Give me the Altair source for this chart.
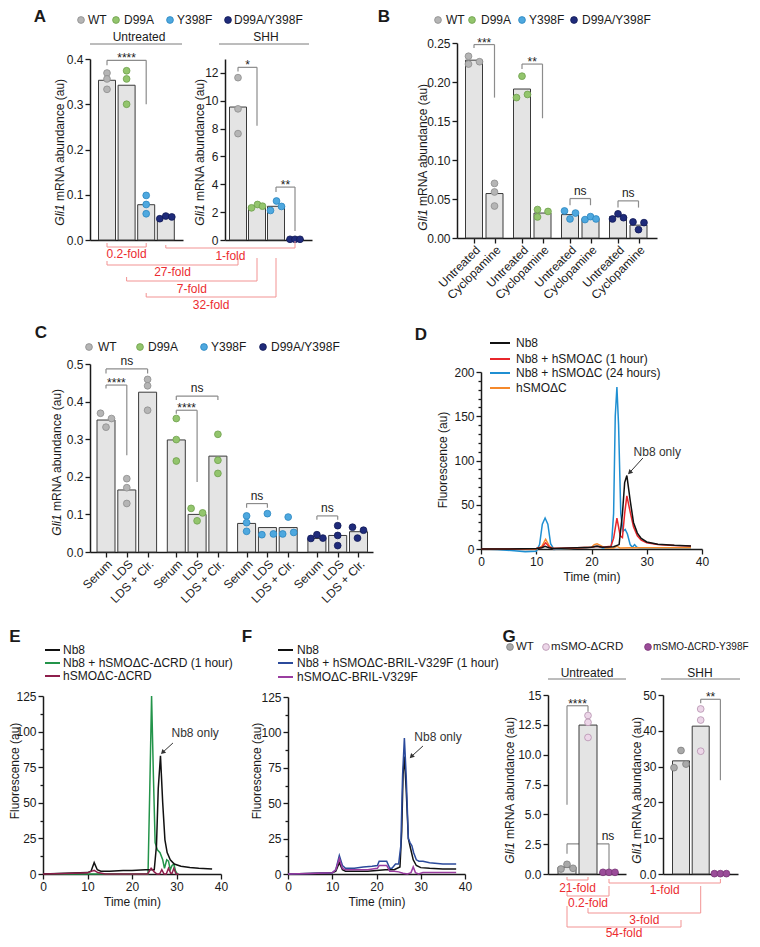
import altair as alt
import pandas as pd

M = 8
VW, VH = 744, 931
FONT = "Liberation Sans"
INK = "#1a1a1a"
BAR_FILL = "#e4e4e4"
BAR_EDGE = "#3a3a3a"
SIG_LINE = "#8c8c8c"
FOLD_TEXT = "#ec2b30"
FOLD_LINE = "#f29393"
HEAD_LINE = "#7a7a7a"

# ---------------- Panel A data ----------------
A_genotypes = ["WT", "D99A", "Y398F", "D99A/Y398F"]
A_fill = ["#b5b5b5", "#93c56d", "#4ea8df", "#1f2b7b"]
A_edge = ["#8d8d8d", "#6e9f4c", "#2b86c0", "#121b57"]
A_untr_mean = [0.353, 0.342, 0.078, 0.050]
A_untr_reps = [[0.369, 0.356, 0.333], [0.374, 0.356, 0.300], [0.0985, 0.0785, 0.058], [0.047, 0.053, 0.051]]
A_untr_jit = [[0, 0, 0], [0, 0, 0], [0, 0, 0], [-6, 0, 6]]
A_shh_mean = [9.55, 2.42, 2.42, 0.05]
A_shh_reps = [[11.66, 9.42, 7.64], [2.31, 2.55, 2.43], [2.12, 2.80, 2.41], [0.05, 0.05, 0.05]]
A_shh_jit = [[0, 0, 0], [-5.5, 0.5, 5.5], [-5.5, 0.5, 5.5], [-5, 0, 5]]
A_untr_sig = [(0, 2, 0.397, 0.386, 0.300, "****", None)]
A_shh_sig = [(0, 1, 12.4, 12.1, 8.2, "*", None), (2, 3, 3.8, 3.45, 0.65, "**", None)]
A_fold_labels = ["0.2-fold", "1-fold", "27-fold", "7-fold", "32-fold"]
A_fold_from = [("L", 0), ("L", 3), ("L", 0), ("L", 1), ("L", 2)]
A_fold_to = [("L", 2), ("R", 3), ("R", 0), ("R", 1), ("R", 2)]

# ---------------- Panel B data ----------------
B_conditions = ["Untreated", "Cyclopamine"]
B_bar_genotype = [0, 0, 1, 1, 2, 2, 3, 3]
B_mean = [0.228, 0.057, 0.191, 0.032, 0.030, 0.025, 0.0275, 0.0165]
B_reps = [[0.233, 0.223, 0.226], [0.070, 0.059, 0.041], [0.2075, 0.180, 0.184], [0.0365, 0.027, 0.034],
          [0.0347, 0.0244, 0.032], [0.0236, 0.0274, 0.0244], [0.0244, 0.031, 0.026], [0.0206, 0.0107, 0.0197]]
B_jit = [[-5.5, -5.5, 5.5], [0, 0, 0], [0, -5.5, 5.5], [-5, -5, 5.5],
         [-5.5, 0, 5.5], [-5.5, 0, 5.5], [-5.5, 0, 5.5], [-5.5, 0, 5.5]]
B_sig = [(0, 1, 0.248, 0.2436, 0.180, "***", None), (2, 3, 0.223, 0.2166, 0.1535, "**", None),
         (4, 5, 0.0506, 0.042, 0.042, "ns", None), (6, 7, 0.0476, 0.039, 0.039, "ns", None)]

# ---------------- Panel C data ----------------
C_conditions = ["Serum", "LDS", "LDS + Clr."]
C_mean = [0.351, 0.165, 0.425, 0.298, 0.100, 0.255, 0.076, 0.065, 0.065, 0.036, 0.044, 0.054]
C_reps = [[0.369, 0.355, 0.332], [0.195, 0.171, 0.129], [0.459, 0.442, 0.377],
          [0.355, 0.299, 0.242], [0.116, 0.104, 0.083], [0.313, 0.244, 0.209],
          [0.096, 0.078, 0.055], [0.102, 0.046, 0.048], [0.093, 0.048, 0.052],
          [0.036, 0.046, 0.037], [0.070, 0.044, 0.017], [0.066, 0.058, 0.037]]
C_jit = [[-5.5, 5.5, 0], [0, 0, 0], [0, 0, 0], [0, 0, 0], [-6, 5.5, 0], [0, 0, 0],
         [0, 0, 0], [0, -5.5, 6], [0, -5.5, 5.5], [-6, 0, 6], [0, 0, 0], [-6, 5, -1]]
C_sig = [(0, 2, 0.487, 0.475, 0.475, "ns", None), (0, 1, 0.444, 0.435, 0.2575, "****", None),
         (3, 5, 0.4147, 0.404, 0.404, "ns", None), (3, 4, 0.377, 0.368, 0.1865, "****", None),
         (6, 7, 0.1288, 0.118, 0.118, "ns", None), (9, 10, 0.096, 0.086, 0.086, "ns", None)]

# ---------------- Panel D data ----------------
D_names = ["Nb8", "Nb8 + hSMO\u0394C (1 hour)", "Nb8 + hSMO\u0394C (24 hours)", "hSMO\u0394C"]
D_colors = ["#111111", "#e8262b", "#1f8fd2", "#f5892b"]
D_t_nb8 = [0, 5, 10, 11, 11.6, 12.3, 13, 16, 20, 21, 22, 24, 25, 25.6, 26.0, 26.4, 27.0, 27.6, 28.3, 29, 30, 32, 35, 38]
D_nb8 = [0, 0, 0.5, 1.5, 3, 1.5, 0.5, 1, 2, 3, 2, 2.5, 5, 40, 75, 83, 55, 30, 18, 12, 8, 5.5, 4.2, 3.5]
D_t_1h = [0, 5, 10, 11, 11.7, 12.4, 13, 16, 20, 21, 22, 23.5, 24.0, 24.6, 25.2, 25.6, 26.0, 26.4, 27.0, 27.6, 28.3, 29, 30, 32, 35, 38]
D_1h = [0, 0, 0.5, 2, 7, 2, 0.5, 1, 2, 3, 2, 3, 12, 35, 15, 13, 40, 60, 42, 25, 15, 10, 7, 5, 4, 3.5]
D_t_24h = [0, 3, 6, 8, 10, 10.6, 11.1, 11.6, 12.1, 12.6, 13.2, 14, 16, 19, 20.5, 21.2, 22, 23, 23.6, 24.0, 24.3, 24.6, 24.9,
           25.3, 25.7, 26.1, 26.5, 27.0, 27.4, 27.8, 28.2, 28.8, 30, 33, 38]
D_24h = [0, -0.5, -2, -3, -2.5, 5, 28, 35, 28, 6, -0.5, 0, 0.5, 1, 3, 3, 1, 1, 3, 40, 150, 183, 140,
         40, 20, 22, 17, 5, 2, 5, 2, 1, 1, 1, 1]
D_t_smo = [0, 5, 10, 11, 11.7, 12.4, 13, 16, 20, 20.5, 21, 21.6, 22.5, 24, 24.6, 25.2, 27, 30, 35, 38]
D_smo = [0, 0, 0, 3, 11, 3, 0.5, 0.5, 2, 5, 6, 4, 1, 1, 3, 1, 1.5, 1.5, 1.5, 1.5]

# ---------------- Panel E data ----------------
E_names = ["Nb8", "Nb8 + hSMO\u0394C-\u0394CRD (1 hour)", "hSMO\u0394C-\u0394CRD"]
E_colors = ["#111111", "#23944a", "#8e1f4c"]
E_t_nb8 = [0, 5, 10, 10.8, 11.5, 12.2, 13, 15, 18, 20, 23, 25, 25.5, 25.9, 26.4, 26.9, 27.4, 27.9, 28.6, 29.5, 31, 33, 35, 38]
E_nb8 = [0, 0.5, 1, 2, 8, 3, 2, 2, 2.5, 2.5, 3, 3, 20, 60, 83, 50, 24, 15, 10, 7, 5.5, 4.5, 4, 3.5]
E_t_mix = [0, 10, 20, 23.6, 24.0, 24.4, 24.8, 25.2, 25.7, 26.3, 26.9, 27.3, 27.8, 28.2, 28.6, 29.0, 29.4, 29.8, 30.2]
E_mix = [0, 0, 0, 0, 60, 125, 70, 22, 17, 15, 10, 4, 10, 9, 3, 6, 7, 2, 0]
E_t_smo = [0, 5, 10, 11, 11.5, 12.3, 14, 20, 23.5, 24.3, 25.0, 25.6, 26.2, 26.7, 27.2, 27.7, 28.2, 28.7, 29.0, 29.4, 29.9, 30.5]
E_smo = [0, 0.3, 0.8, 2, 2.5, 1, 0, 0, 0, 4, 1.5, 0, 0, 3, 0, 0, 4, 0.5, 0.5, 4, 0, 0]

# ---------------- Panel F data ----------------
F_names = ["Nb8", "Nb8 + hSMO\u0394C-BRIL-V329F (1 hour)", "hSMO\u0394C-BRIL-V329F"]
F_colors = ["#111111", "#2b4a9b", "#9a3da0"]
F_t_nb8 = [0, 5, 10, 10.8, 11.6, 12.3, 13, 15, 18, 20, 22, 24, 25.3, 25.7, 26.0, 26.3, 26.7, 27.2, 27.7, 28.3, 29, 30, 32, 35, 38]
F_nb8 = [0, 0.3, 0.8, 2, 8, 3, 2, 2, 2, 2.5, 3, 3, 5, 30, 70, 83, 60, 25, 18, 10, 6, 4.5, 4, 3.5, 3.5]
F_t_mix = [0, 5, 10, 10.8, 11.6, 12.3, 13, 15, 17, 19, 20.2, 20.6, 21.5, 22.3, 23.0, 23.5, 24.3, 25.0, 25.5, 25.9,
           26.3, 26.7, 27.2, 27.6, 28.0, 28.4, 29.0, 29.6, 30.5, 32, 35, 38]
F_mix = [0, 0.3, 0.8, 3, 13, 6, 4, 4, 5, 5.5, 6, 9, 9, 9, 4, 4, 7, 7, 20, 70, 96, 70, 25, 22, 20, 15, 10, 9, 9, 8, 7, 7]
F_t_smo = [0, 5, 10, 10.8, 11.6, 12.3, 13, 15, 18, 20.2, 20.6, 21.5, 22.3, 23.0, 24, 25, 26, 27, 27.8, 28.3, 28.8, 29.5, 30.5, 33, 38]
F_smo = [0, 0.3, 0.8, 3, 11, 4, 3, 3, 3, 4, 6, 6, 6, 2, 2, 1.5, 0.5, 0, 1, 5, 1, 0, 1, 1, 1]

# ---------------- Panel G data ----------------
G_genotypes = ["WT", "mSMO-\u0394CRD", "mSMO-\u0394CRD-Y398F"]
G_fill = ["#a9a9a9", "#ecd6e8", "#9b4c99"]
G_edge = ["#7f7f7f", "#b592ae", "#7a3577"]
G_untr_mean = [0.57, 12.48, 0.12]
G_untr_reps = [[0.42, 0.81, 0.48], [13.28, 12.71, 11.44], [0.14, 0.14, 0.14]]
G_untr_jit = [[-6, 0, 6], [0, 0, 0], [-6, 0, 6]]
G_shh_mean = [31.6, 41.3, 0.12]
G_shh_reps = [[29.7, 34.5, 30.7], [46.1, 43.0, 34.3], [0.1, 0.1, 0.1]]
G_shh_jit = [[-7, 0, 5], [0, 0, 0], [-6, 0, 6]]
G_untr_sig = [(0, 1, 14.1, 5.8, 13.6, "****", None), (0, 2, 2.53, 1.69, 0.40, "ns", 60)]
G_shh_sig = [(1, 2, 48.8, 47.7, 26.2, "**", None)]
G_fold_labels = ["21-fold", "1-fold", "0.2-fold", "3-fold", "54-fold"]
G_fold_from = [("L", 0), ("L", 2), ("L", 0), ("L", 1), ("L", 0)]
G_fold_to = [("L", 1), ("R", 2), ("L", 2), ("R", 1), ("R", 0)]

# ====================== helpers ======================
PX = alt.Scale(domain=[0, 1000], range=[-M, 1000 - M], nice=False, zero=False)
PY = alt.Scale(domain=[0, 1000], range=[-M, 1000 - M], nice=False, zero=False)


def texts(rows, size=12, color=INK, weight="normal", align="center", baseline="middle", style="normal", angle=0):
    df = pd.DataFrame(rows, columns=["x", "y", "t"])
    return alt.Chart(df).mark_text(font=FONT, fontSize=size, color=color, fontWeight=weight, align=align,
                                   baseline=baseline, fontStyle=style, angle=angle).encode(
        x=alt.X("x:Q", scale=PX, axis=None), y=alt.Y("y:Q", scale=PY, axis=None), text="t:N")


def segs(rows, color, width=1.0):
    df = pd.DataFrame(rows, columns=["x", "y", "x2", "y2"])
    return alt.Chart(df).mark_rule(color=color, strokeWidth=width).encode(
        x=alt.X("x:Q", scale=PX, axis=None), y=alt.Y("y:Q", scale=PY, axis=None), x2="x2:Q", y2="y2:Q")


def dots(rows, size=46):
    df = pd.DataFrame(rows, columns=["x", "y", "fill", "edge"])
    return alt.Chart(df).mark_circle(size=size, opacity=1, strokeWidth=0.8).encode(
        x=alt.X("x:Q", scale=PX, axis=None), y=alt.Y("y:Q", scale=PY, axis=None),
        fill=alt.Fill("fill:N", scale=None), stroke=alt.Stroke("edge:N", scale=None))


def gli_title(x, yc, size=12):
    total = 12.28 * size
    pre = (0.778 + 0.222 + 0.222 + 0.556 + 0.278) * size
    bottom = yc + total / 2
    return [texts([(x, bottom, "Gli1")], size=size, align="left", style="italic", angle=270),
            texts([(x, bottom - pre, "mRNA abundance (au)")], size=size, align="left", angle=270)]


def bar_panel(L, R, T, B, ymax, yvals, ylab, pos, half, means, reps, jit, fills, edges, sig, xlabels=None):
    xs = alt.Scale(domain=[0, R - L], range=[L - M, R - M], nice=False, zero=False)
    ys = alt.Scale(domain=[0, ymax], range=[B - M, T - M], nice=False, zero=False)
    out = []
    seg_rows, star_rows, ns_rows = [], [], []
    for (i, j, top, lend, rend, lab, lx) in sig:
        xa, xb = pos[i], pos[j]
        seg_rows += [(xa, top, xb, top), (xa, top, xa, lend), (xb, top, xb, rend)]
        tx = (xa + xb) / 2 if lx is None else lx
        (star_rows if "*" in lab else ns_rows).append((tx, top, lab))
    if seg_rows:
        sdf = pd.DataFrame(seg_rows, columns=["x", "y", "x2", "y2"])
        out.append(alt.Chart(sdf).mark_rule(color=SIG_LINE, strokeWidth=1.2).encode(
            x=alt.X("x:Q", scale=xs, axis=None), y=alt.Y("y:Q", scale=ys, axis=None), x2="x2:Q", y2="y2:Q"))
    bdf = pd.DataFrame({"x1": [p - half for p in pos], "x2": [p + half for p in pos],
                        "y": means, "y0": [0.0] * len(pos)})
    if xlabels:
        expr = " : ".join(f"abs(datum.value - {p}) < 0.5 ? '{l}'" for p, l in zip(pos, xlabels)) + " : ''"
        xaxis = alt.Axis(orient="bottom", offset=(B - M) - VH, values=pos, labelExpr=expr, labelAngle=315,
                         labelOverlap=False, labelFlush=False, title=None, tickSize=5, labelPadding=1)
    else:
        xaxis = alt.Axis(orient="bottom", offset=(B - M) - VH, values=[0], labels=False, ticks=False, title=None)
    yaxis = alt.Axis(orient="left", offset=-(L - M), values=yvals, labelExpr=ylab, title=None,
                     labelOverlap=False, labelFlush=False)
    out.append(alt.Chart(bdf).mark_rect(fill=BAR_FILL, stroke=BAR_EDGE, strokeWidth=1).encode(
        x=alt.X("x1:Q", scale=xs, axis=xaxis), x2="x2:Q",
        y=alt.Y("y:Q", scale=ys, axis=yaxis), y2="y0:Q"))
    prow = []
    for i, p in enumerate(pos):
        for v, d in zip(reps[i], jit[i]):
            prow.append((p + d, v, fills[i], edges[i]))
    pdf = pd.DataFrame(prow, columns=["x", "y", "fill", "edge"])
    out.append(alt.Chart(pdf).mark_circle(size=46, opacity=1, strokeWidth=0.8).encode(
        x=alt.X("x:Q", scale=xs, axis=None), y=alt.Y("y:Q", scale=ys, axis=None),
        fill=alt.Fill("fill:N", scale=None), stroke=alt.Stroke("edge:N", scale=None)))
    if star_rows:
        out.append(alt.Chart(pd.DataFrame(star_rows, columns=["x", "y", "t"])).mark_text(
            font=FONT, fontSize=12, color=INK, baseline="middle", dy=-2).encode(
            x=alt.X("x:Q", scale=xs, axis=None), y=alt.Y("y:Q", scale=ys, axis=None), text="t:N"))
    if ns_rows:
        out.append(alt.Chart(pd.DataFrame(ns_rows, columns=["x", "y", "t"])).mark_text(
            font=FONT, fontSize=12, color=INK, baseline="bottom", dy=-1).encode(
            x=alt.X("x:Q", scale=xs, axis=None), y=alt.Y("y:Q", scale=ys, axis=None), text="t:N"))
    return out


def chrom_panel(L, R, T, B, ymax, ymaj, yminor, series, note):
    xs = alt.Scale(domain=[0, 40], range=[L - M, R - M], nice=False, zero=False)
    ys = alt.Scale(domain=[0, ymax], range=[B - M, T - M], nice=False, zero=False)
    out = []
    mdf = pd.DataFrame({"v": yminor, "z": [0] * len(yminor)})
    out.append(alt.Chart(mdf).mark_point(opacity=0).encode(
        x=alt.X("z:Q", scale=xs, axis=None),
        y=alt.Y("v:Q", scale=ys, axis=alt.Axis(orient="left", offset=-(L - M), values=yminor, labels=False,
                                                domain=False, tickSize=3, title=None))))
    for k, (t, y, color) in enumerate(series):
        df = pd.DataFrame({"t": t, "y": y})
        if k == 0:
            xa = alt.Axis(orient="bottom", offset=(B - M) - VH, values=[0, 10, 20, 30, 40], title="Time (min)",
                          labelFlush=False, titlePadding=4)
            ya = alt.Axis(orient="left", offset=-(L - M), values=ymaj, title=None, labelFlush=False)
        else:
            xa = None
            ya = None
        out.append(alt.Chart(df).mark_line(color=color, strokeWidth=1.5).encode(
            x=alt.X("t:Q", scale=xs, axis=xa), y=alt.Y("y:Q", scale=ys, axis=ya)))
    tx, ty, ax1, ay1, ax2, ay2 = note
    out.append(alt.Chart(pd.DataFrame({"x": [tx], "y": [ty], "t": ["Nb8 only"]})).mark_text(
        font=FONT, fontSize=12, color="#333333").encode(
        x=alt.X("x:Q", scale=xs, axis=None), y=alt.Y("y:Q", scale=ys, axis=None), text="t:N"))
    adf = pd.DataFrame({"x": [ax1], "y": [ay1], "x2": [ax2], "y2": [ay2]})
    out.append(alt.Chart(adf).mark_rule(color="#333333", strokeWidth=1).encode(
        x=alt.X("x:Q", scale=xs, axis=None), y=alt.Y("y:Q", scale=ys, axis=None), x2="x2:Q", y2="y2:Q"))
    out.append(alt.Chart(pd.DataFrame({"x": [ax2], "y": [ay2]})).mark_point(
        shape="triangle", filled=True, size=28, angle=225, color="#333333", opacity=1).encode(
        x=alt.X("x:Q", scale=xs, axis=None), y=alt.Y("y:Q", scale=ys, axis=None)))
    return out


def fold_layers(page_x, froms, tos, labels, rows):
    lines, labs = [], []
    for f, t, lab, (ly, lt, rt, ty) in zip(froms, tos, labels, rows):
        xa, xb = page_x[f], page_x[t]
        lines += [(xa, ly, xb, ly), (xa, lt, xa, ly), (xb, rt, xb, ly)]
        labs.append(((xa + xb) / 2, ty, lab))
    return [segs(lines, FOLD_LINE, 1.0), texts(labs, color=FOLD_TEXT)]


layers = []

# ====================== Panel A ======================
AL = (90, 183, 59, 240)
AR = (225, 312, 59, 240)
posAL = [17 + i * 19.6 for i in range(4)]
posAR = [13 + i * 19.0 for i in range(4)]
layers += bar_panel(*AL, 0.4, [0, 0.1, 0.2, 0.3, 0.4], "format(datum.value, '.1f')", posAL, 8.5,
                    A_untr_mean, A_untr_reps, A_untr_jit, A_fill, A_edge, A_untr_sig)
layers += bar_panel(*AR, 13, [0, 2, 4, 6, 8, 10, 12], "format(datum.value, 'd')", posAR, 8.5,
                    A_shh_mean, A_shh_reps, A_shh_jit, A_fill, A_edge, A_shh_sig)
pageA = {}
for i in range(4):
    pageA[("L", i)] = AL[0] + posAL[i]
    pageA[("R", i)] = AR[0] + posAR[i]
A_fold_rows = [(247, 243, 243, 254), (248, 245, 241, 256), (265, 261, 258, 272), (281, 277, 258, 289), (297, 293, 258, 305)]
layers += fold_layers(pageA, A_fold_from, A_fold_to, A_fold_labels, A_fold_rows)
layers += gli_title(60, 152) + gli_title(200, 152)
layers.append(texts([(139, 37, "Untreated"), (266, 37, "SHH")]))
layers.append(segs([(90, 44, 182, 44), (219, 44, 309, 44)], HEAD_LINE, 1.0))
layers.append(dots([(81, 20, A_fill[0], A_edge[0]), (116, 20, A_fill[1], A_edge[1]),
                    (170, 20, A_fill[2], A_edge[2]), (228, 20, A_fill[3], A_edge[3])]))
layers.append(texts([(88, 20, A_genotypes[0]), (124, 20, A_genotypes[1]), (177, 20, A_genotypes[2]),
                     (234, 20, A_genotypes[3])], align="left"))

# ====================== Panel B ======================
BP = (457, 657, 43, 238)
posB = [17 + g * 48 + k * 20.5 for g in range(4) for k in range(2)]
B_fill = [A_fill[g] for g in B_bar_genotype]
B_edge = [A_edge[g] for g in B_bar_genotype]
layers += bar_panel(*BP, 0.25, [0, 0.05, 0.10, 0.15, 0.20, 0.25], "format(datum.value, '.2f')", posB, 8.5,
                    B_mean, B_reps, B_jit, B_fill, B_edge, B_sig, xlabels=B_conditions * 4)
layers += gli_title(423, 157)
layers.append(dots([(438, 20, A_fill[0], A_edge[0]), (472, 20, A_fill[1], A_edge[1]),
                    (522, 20, A_fill[2], A_edge[2]), (574, 20, A_fill[3], A_edge[3])]))
layers.append(texts([(446, 20, A_genotypes[0]), (481, 20, A_genotypes[1]), (529, 20, A_genotypes[2]),
                     (582, 20, A_genotypes[3])], align="left"))

# ====================== Panel C ======================
CP = (90, 373, 364, 552)
posC = [16 + g * 70.3 + k * 20.8 for g in range(4) for k in range(3)]
C_fill = [A_fill[g] for g in range(4) for _ in range(3)]
C_edge = [A_edge[g] for g in range(4) for _ in range(3)]
layers += bar_panel(*CP, 0.5, [0, 0.1, 0.2, 0.3, 0.4, 0.5], "format(datum.value, '.1f')", posC, 9,
                    C_mean, C_reps, C_jit, C_fill, C_edge, C_sig, xlabels=C_conditions * 4)
layers += gli_title(57, 462)
layers.append(dots([(89, 347, A_fill[0], A_edge[0]), (140, 347, A_fill[1], A_edge[1]),
                    (204, 347, A_fill[2], A_edge[2]), (263, 347, A_fill[3], A_edge[3])]))
layers.append(texts([(98, 347, A_genotypes[0]), (148, 347, A_genotypes[1]), (211, 347, A_genotypes[2]),
                     (271, 347, A_genotypes[3])], align="left"))

# ====================== Panel D ======================
DP = (481, 702, 372, 549)
layers += chrom_panel(*DP, 200, [0, 50, 100, 150, 200], [v for v in range(10, 200, 10) if v % 50],
                      [(D_t_24h, D_24h, D_colors[2]), (D_t_smo, D_smo, D_colors[3]),
                       (D_t_1h, D_1h, D_colors[1]), (D_t_nb8, D_nb8, D_colors[0])],
                      (31.9, 109.6, 29.3, 102.8, 27.0, 87.0))
layers.append(texts([(443, 460, "Fluorescence (au)")], angle=270))
for k, yy in enumerate([343, 359, 373, 388]):
    layers.append(segs([(490, yy, 510, yy)], D_colors[k], 2.0))
layers.append(texts([(516, yy, D_names[k]) for k, yy in enumerate([343, 359, 373, 388])], align="left"))

# ====================== Panel E ======================
EP = (43, 221, 696, 874)
layers += chrom_panel(*EP, 125, [0, 25, 50, 75, 100, 125], [12.5, 37.5, 62.5, 87.5, 112.5],
                      [(E_t_mix, E_mix, E_colors[1]), (E_t_nb8, E_nb8, E_colors[0]), (E_t_smo, E_smo, E_colors[2])],
                      (34.2, 99.0, 29.2, 92.0, 27.0, 85.7))
layers.append(texts([(15, 771, "Fluorescence (au)")], angle=270))
for k, yy in enumerate([650, 663, 676]):
    layers.append(segs([(45, yy, 60, yy)], E_colors[k], 2.0))
layers.append(texts([(63, yy, E_names[k]) for k, yy in enumerate([650, 663, 676])], align="left"))

# ====================== Panel F ======================
FP = (288, 465, 697, 874)
layers += chrom_panel(*FP, 125, [0, 25, 50, 75, 100, 125], [12.5, 37.5, 62.5, 87.5, 112.5],
                      [(F_t_nb8, F_nb8, F_colors[0]), (F_t_mix, F_mix, F_colors[1]), (F_t_smo, F_smo, F_colors[2])],
                      (33.9, 96.7, 30.5, 90.4, 28.0, 83.3))
layers.append(texts([(257, 771, "Fluorescence (au)")], angle=270))
for k, yy in enumerate([650, 663, 677]):
    layers.append(segs([(278, yy, 293, yy)], F_colors[k], 2.0))
layers.append(texts([(297, yy, F_names[k]) for k, yy in enumerate([650, 663, 677])], align="left"))

# ====================== Panel G ======================
GL = (548, 626, 695, 874)
GR = (663, 738, 695, 874)
posGL = [19 + i * 21 for i in range(3)]
posGR = [18 + i * 19.7 for i in range(3)]
layers += bar_panel(*GL, 15, [0, 2.5, 5, 7.5, 10, 12.5, 15],
                    "datum.value == 15 ? '15' : format(datum.value, '.1f')", posGL, 9,
                    G_untr_mean, G_untr_reps, G_untr_jit, G_fill, G_edge, G_untr_sig)
layers += bar_panel(*GR, 50, [0, 10, 20, 30, 40, 50],
                    "datum.value == 0 ? '0.0' : format(datum.value, 'd')", posGR, 8.5,
                    G_shh_mean, G_shh_reps, G_shh_jit, G_fill, G_edge, G_shh_sig)
pageG = {}
for i in range(3):
    pageG[("L", i)] = GL[0] + posGL[i]
    pageG[("R", i)] = GR[0] + posGR[i]
G_fold_rows = [(880, 877, 877, 888), (883, 879, 879, 890), (896, 892, 886, 903), (913, 908, 886, 920), (927, 906, 920, 933)]
layers += fold_layers(pageG, G_fold_from, G_fold_to, G_fold_labels, G_fold_rows)
layers += gli_title(510, 790) + gli_title(637, 790)
layers.append(texts([(587, 673, "Untreated"), (700, 673, "SHH")]))
layers.append(segs([(548, 679, 626, 679), (661, 679, 740, 679)], HEAD_LINE, 1.0))
layers.append(dots([(510, 647, G_fill[0], G_edge[0]), (546, 647, G_fill[1], G_edge[1]),
                    (648, 647, G_fill[2], G_edge[2])]))
layers.append(texts([(516, 647, G_genotypes[0]), (551, 647, G_genotypes[1])], align="left", size=11.5))
layers.append(texts([(653, 647, G_genotypes[2])], align="left", size=10))

# ====================== panel letters ======================
layers.append(texts([(40, 17, "A"), (384, 17, "B"), (41, 333, "C"), (421, 335, "D"),
                     (15, 637, "E"), (247, 637, "F"), (509, 637, "G")], size=17, weight="bold"))

chart = alt.layer(*layers).resolve_scale(x="independent", y="independent").properties(
    width=VW, height=VH, padding=0, autosize=alt.AutoSizeParams(type="none"))
chart = chart.configure_view(stroke=None).configure_axis(
    labelFont=FONT, labelFontSize=12, labelColor=INK, titleFont=FONT, titleFontSize=12,
    titleFontWeight="normal", titleColor=INK, domainColor=INK, domainWidth=1.5, tickColor=INK,
    tickWidth=1.3, tickSize=5, grid=False, labelPadding=2)

chart.save("out.html", embed_options={"renderer": "svg", "actions": False})
